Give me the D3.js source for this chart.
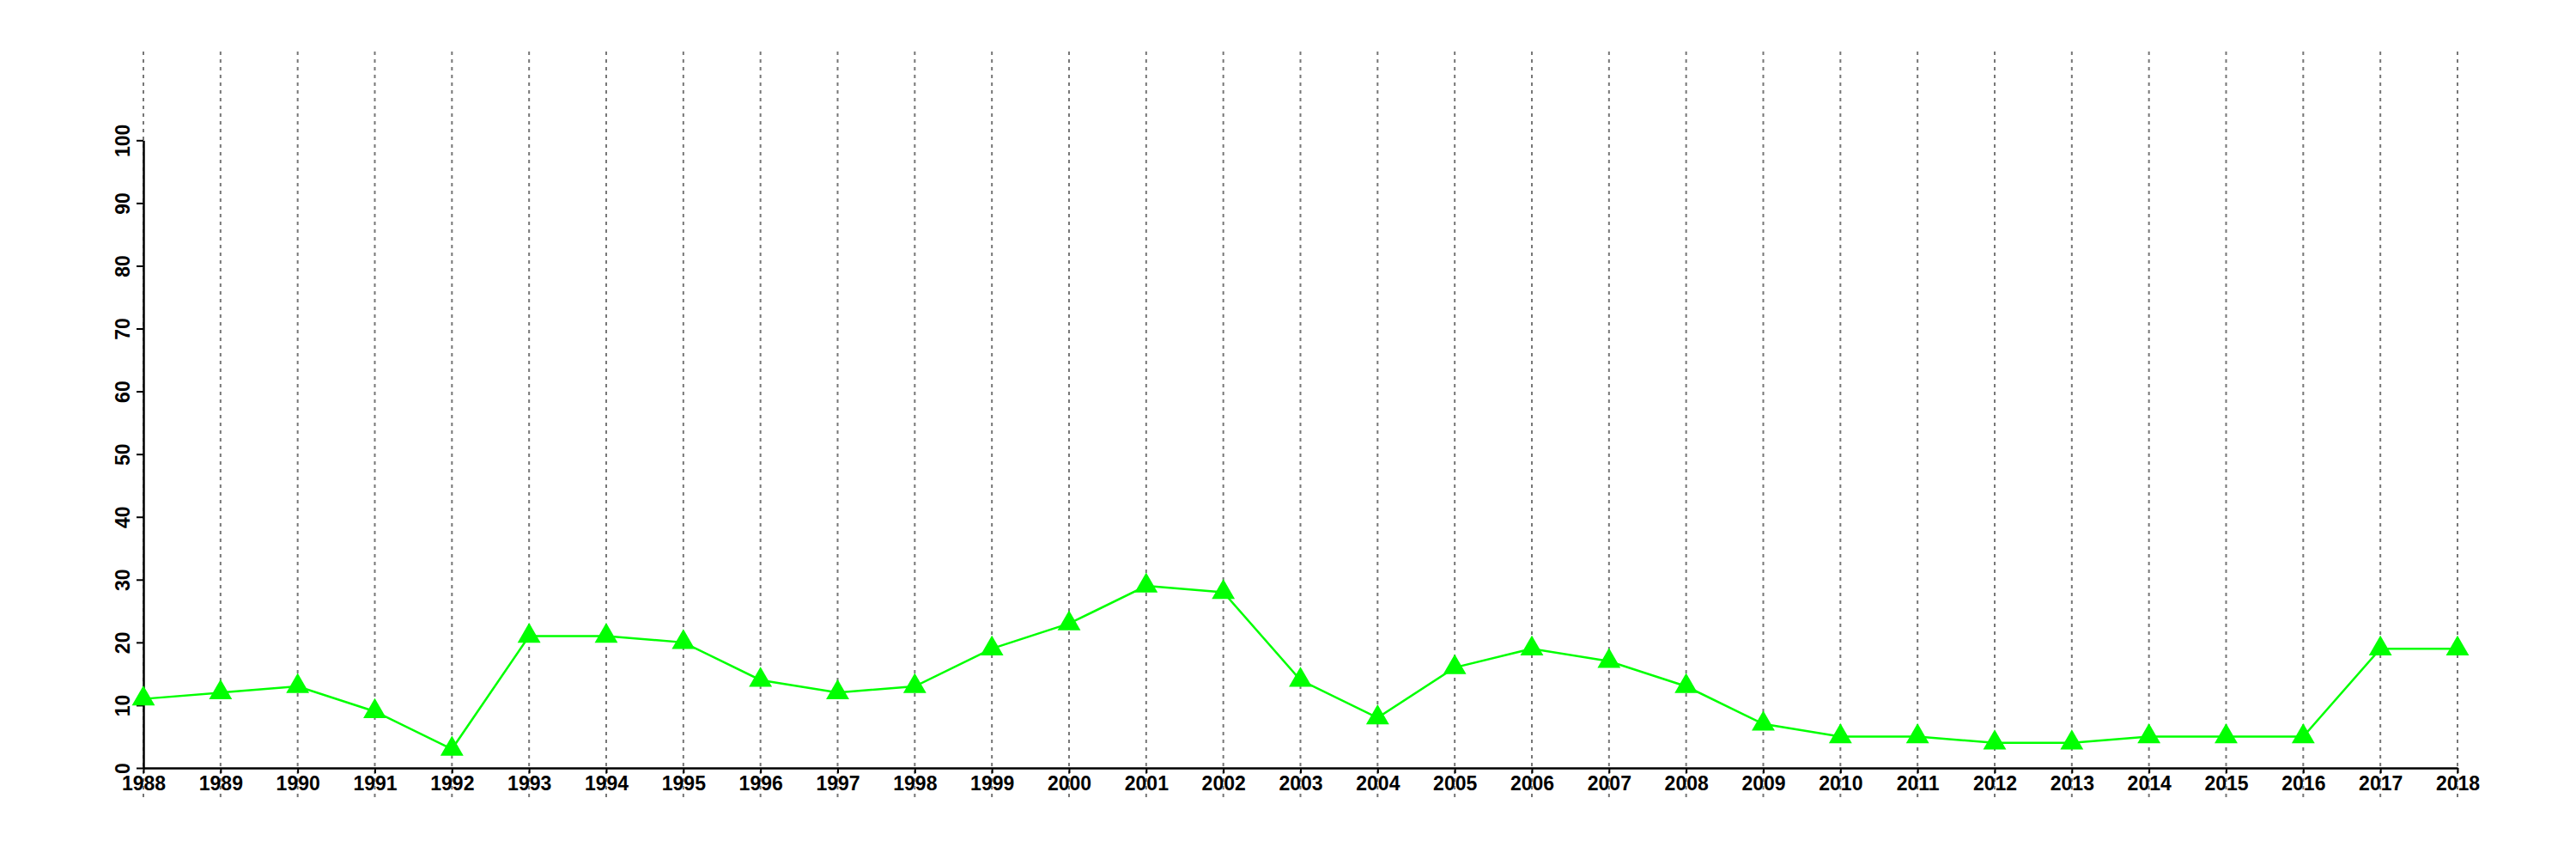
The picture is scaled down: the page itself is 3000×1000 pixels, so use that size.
<!DOCTYPE html>
<html>
<head>
<meta charset="utf-8">
<script src="https://cdn.jsdelivr.net/npm/d3@7"></script>
<style>
  html, body { margin: 0; padding: 0; background: #fff; }
  svg { display: block; }
  text { font-family: "Liberation Sans", Arial, Helvetica, sans-serif; font-weight: bold; }
</style>
</head>
<body>
<svg id="chart" width="3000" height="1000"></svg>
<script>
const years = [1988,1989,1990,1991,1992,1993,1994,1995,1996,1997,1998,1999,2000,2001,2002,2003,2004,2005,2006,2007,2008,2009,2010,2011,2012,2013,2014,2015,2016,2017,2018];
const values = [11,12,13,9,3,21,21,20,14,12,13,19,23,29,28,14,8,16,19,17,13,7,5,5,4,4,5,5,5,19,19];
const yTicks = [0,10,20,30,40,50,60,70,80,90,100];

const svg = d3.select("#chart");
const x = d3.scaleLinear().domain([1988, 2018]).range([167, 2862]);
const y = d3.scaleLinear().domain([0, 100]).range([894, 163.3]);

// vertical dotted gridlines
svg.append("g").selectAll("line").data(years).join("line")
  .attr("x1", d => x(d)).attr("x2", d => x(d))
  .attr("y1", 60).attr("y2", 928)
  .attr("stroke", "#777").attr("stroke-width", 2)
  .attr("stroke-dasharray", "4,5");

// y axis
const yAxis = svg.append("g").attr("transform", `translate(${x(1988)},0)`)
  .call(d3.axisLeft(y).tickValues(yTicks).tickSize(8).tickSizeOuter(0).tickFormat(d3.format("d")));
yAxis.select(".domain").attr("stroke", "#000").attr("stroke-width", 2.5);
yAxis.selectAll(".tick line").attr("stroke", "#000").attr("stroke-width", 2);
yAxis.selectAll(".tick text")
  .attr("x", 0).attr("y", 0).attr("dy", null)
  .attr("transform", "translate(-16,0) rotate(-90)")
  .attr("text-anchor", "middle")
  .style("font-size", "23px").attr("fill", "#000");

// x axis
const xAxis = svg.append("g").attr("transform", `translate(0,${y(0)})`)
  .call(d3.axisBottom(x).tickValues(years).tickSize(6).tickSizeOuter(0).tickFormat(d3.format("d")));
xAxis.select(".domain").attr("stroke", "#000").attr("stroke-width", 2.5);
xAxis.selectAll(".tick line").attr("stroke", "#000").attr("stroke-width", 2);
xAxis.selectAll(".tick text")
  .attr("y", 26).attr("dy", null)
  .style("font-size", "23px").attr("fill", "#000");

// line
const line = d3.line().x((d, i) => x(years[i])).y(d => y(d));
svg.append("path").datum(values)
  .attr("d", line).attr("fill", "none")
  .attr("stroke", "#00ff00").attr("stroke-width", 2.5);

// triangles
const r = 15.5;
const tri = `M0,${-r} L${r*Math.sqrt(3)/2},${r/2} L${-r*Math.sqrt(3)/2},${r/2} Z`;
svg.append("g").selectAll("path").data(values).join("path")
  .attr("transform", (d, i) => `translate(${x(years[i])},${y(d)})`)
  .attr("d", tri).attr("fill", "#00ff00");
</script>
</body>
</html>
